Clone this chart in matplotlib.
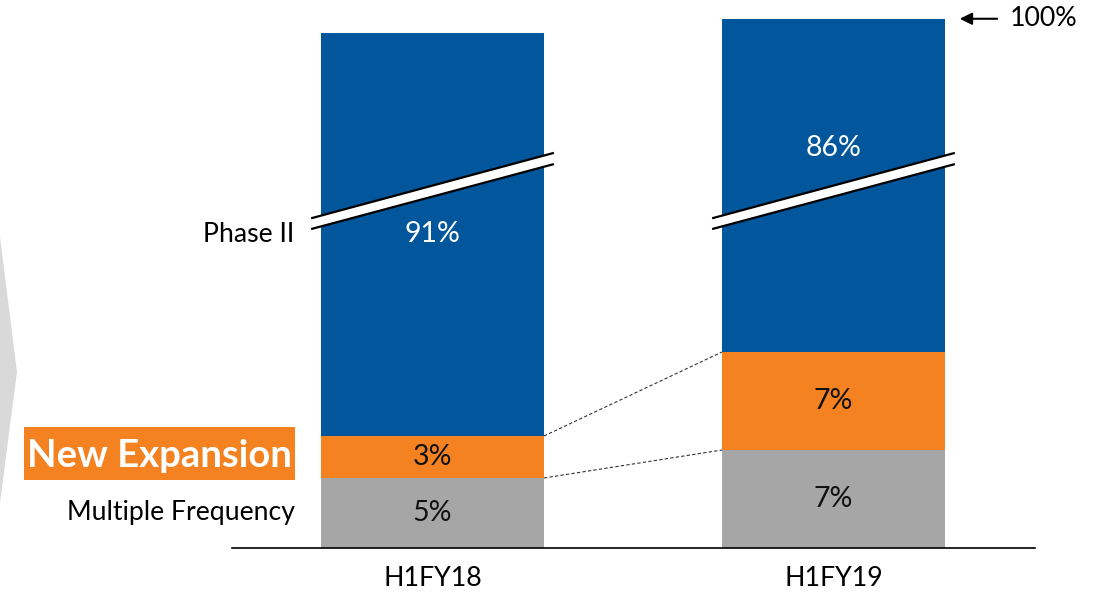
import matplotlib.pyplot as plt
from matplotlib.patches import Polygon, Rectangle

categories = ['H1FY18', 'H1FY19']
multiple_freq = [5, 7]
new_expansion = [3, 7]
phase_two = [91, 86]
series_names = ['Multiple Frequency', 'New Expansion', 'Phase II']

blue = '#02569b'
orange = '#f58220'
gray = '#a6a6a6'

# broken axis: this much of the blue segment is cut out of the drawing
cut = 62.2
width = 0.556

plt.rcParams['font.family'] = ['Lato', 'DejaVu Sans']

fig = plt.figure(figsize=(10.99, 5.92), dpi=100)
ax = fig.add_axes([0, 0, 1, 1])
ax.set_xlim(-1.0786, 1.6621)
ax.set_ylim(-3.143, 39.14)
ax.axis('off')

x = list(range(len(categories)))
blue_shown = [p - cut for p in phase_two]
bottom_o = multiple_freq
bottom_b = [m + n for m, n in zip(multiple_freq, new_expansion)]

ax.bar(x, multiple_freq, width, color=gray)
ax.bar(x, new_expansion, width, bottom=bottom_o, color=orange)
ax.bar(x, blue_shown, width, bottom=bottom_b, color=blue)

# segment labels
for i in x:
    ax.text(i, multiple_freq[i] / 2, f'{multiple_freq[i]}%', ha='center', va='center',
            fontsize=20.5, color='#111111')
    ax.text(i, bottom_o[i] + new_expansion[i] / 2, f'{new_expansion[i]}%', ha='center',
            va='center', fontsize=20.5, color='#111111')
blue_label_y = [22.4, 28.6]
for i in x:
    ax.text(i, blue_label_y[i], f'{phase_two[i]}%', ha='center', va='center',
            fontsize=20.5, color='white')

# break bands
dx = 0.022
for i in x:
    x0, x1 = i - width / 2 - dx, i + width / 2 + dx
    top = [(x0, 23.57), (x1, 28.2)]
    bot = [(x0, 22.8), (x1, 27.4)]
    ax.add_patch(Polygon(top + bot[::-1], closed=True, facecolor='white',
                         edgecolor='none', zorder=3))
    ax.plot(*zip(*top), color='black', lw=1.6, zorder=4)
    ax.plot(*zip(*bot), color='black', lw=1.6, zorder=4)

# dashed connectors
tops_g = multiple_freq
tops_o = bottom_b
ax.plot([x[0] + width / 2, x[1] - width / 2], [tops_g[0], tops_g[1]],
        color='#333333', lw=0.8, dashes=(3, 2))
ax.plot([x[0] + width / 2, x[1] - width / 2], [tops_o[0], tops_o[1]],
        color='#333333', lw=0.8, dashes=(3, 2))

# baseline
ax.plot([-0.5, 1.502], [0, 0], color='black', lw=1.2)

# category labels
for i in x:
    ax.text(i, -2.15, categories[i], ha='center', va='center', fontsize=19.3)

# series labels on the left
lx = -0.344
ax.text(lx, 22.4, series_names[2], ha='right', va='center', fontsize=19.2)
ax.text(lx, 2.5, series_names[0], ha='right', va='center', fontsize=19.2)
ax.add_patch(Rectangle((-1.0187, 4.857), 0.6758, 3.783, facecolor=orange,
                       edgecolor='none'))
ax.text(-0.6808, 6.55, series_names[1], ha='center', va='center', fontsize=27.5,
        fontweight='bold', color='white')

# 100% marker
ax.annotate('', xy=(1 + width / 2 + 0.03, 37.8), xytext=(1.415, 37.8),
            arrowprops=dict(arrowstyle='-|>', color='black', lw=1.5,
                            mutation_scale=18))
ax.text(1.44, 37.8, '100%', ha='left', va='center', fontsize=19.3)

# gray chevron on the left edge
fig.patches.append(Polygon([(0, 1 - 237 / 592), (17 / 1099, 1 - 372 / 592),
                            (0, 1 - 503 / 592)], closed=True, facecolor='#d9d9d9',
                           edgecolor='none', transform=fig.transFigure))

fig.savefig('out.png', dpi=100)
